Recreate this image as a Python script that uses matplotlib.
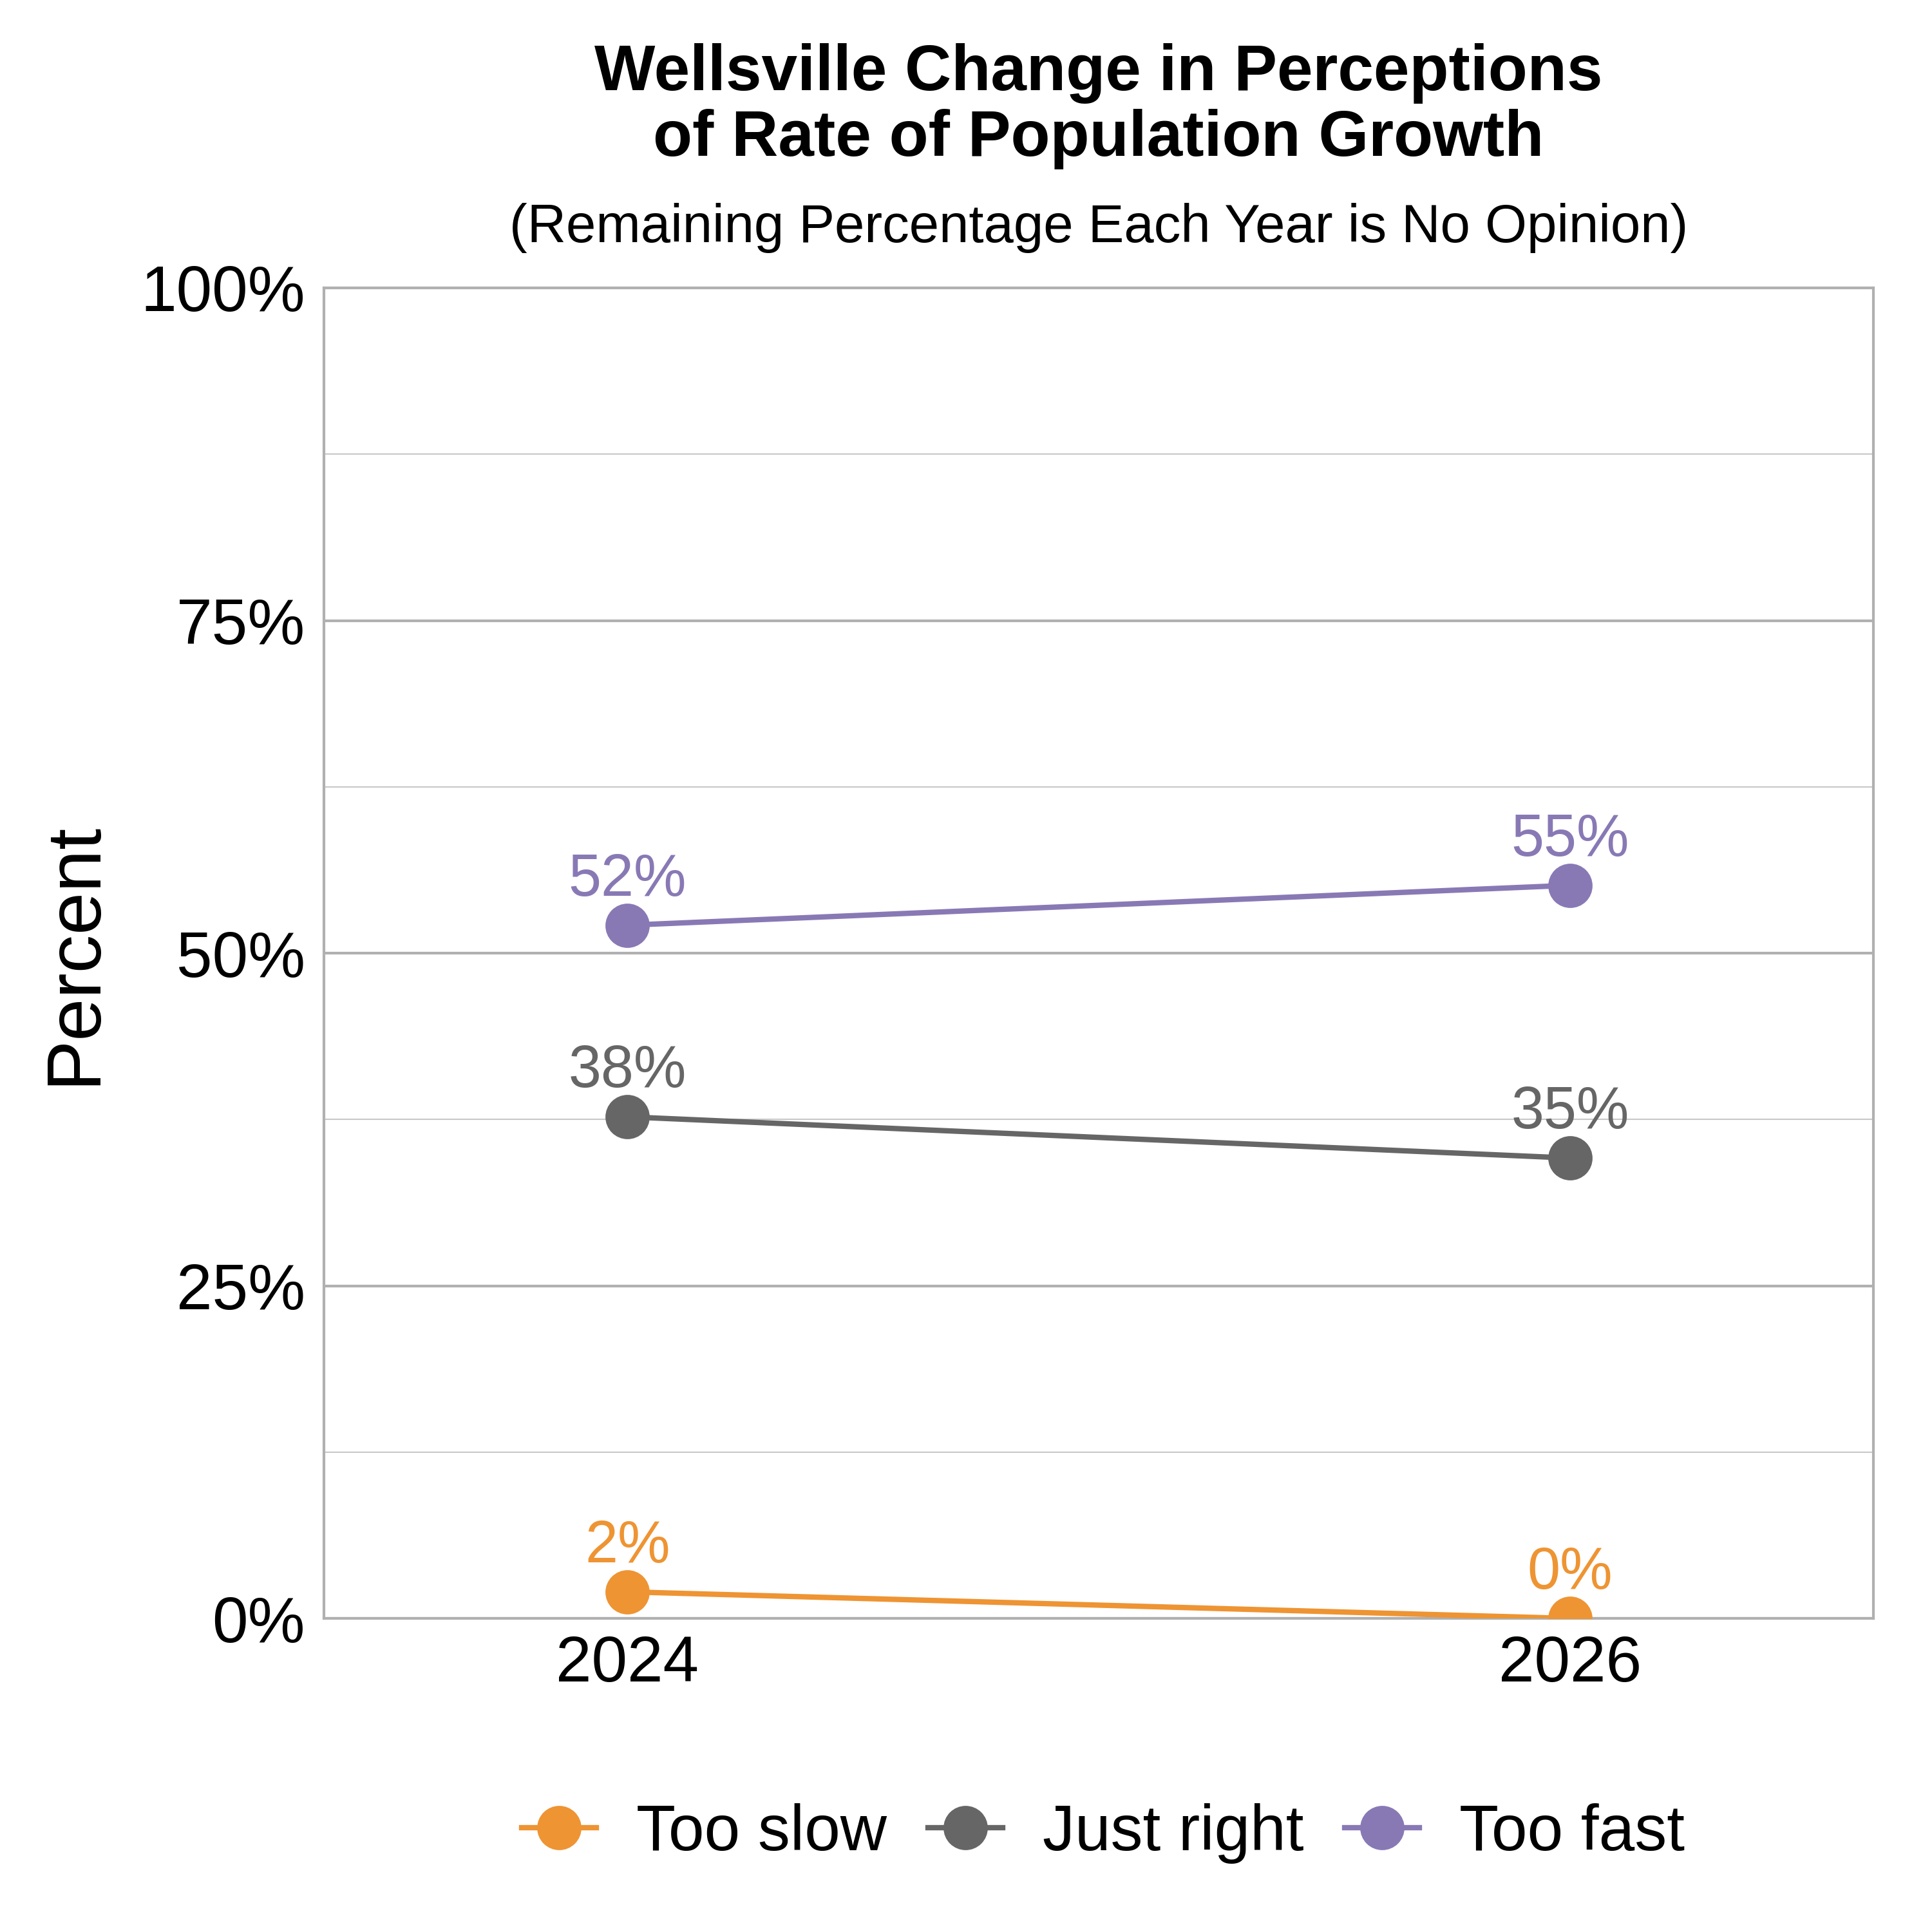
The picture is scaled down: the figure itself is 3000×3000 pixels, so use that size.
import matplotlib
matplotlib.use("Agg")
import matplotlib.pyplot as plt
import numpy as np

plt.rcParams['font.family'] = ['Liberation Sans', 'DejaVu Sans']

years = ["2024", "2026"]
too_slow = [2.0, 0.0]
just_right = [37.7, 34.6]
too_fast = [52.1, 55.1]

series_names = ["Too slow", "Just right", "Too fast"]
series_vals = [too_slow, just_right, too_fast]
colors = ["#EE9433", "#666666", "#8879B5"]

fig = plt.figure(figsize=(10, 10), dpi=300)
ax = fig.add_axes([0.1677, 0.1623, 0.802, 0.6887])

x = np.arange(len(years))
for name, vals, c in zip(series_names, series_vals, colors):
    ax.plot(x, vals, color=c, lw=2, marker='o', markersize=15.5, label=name,
            zorder=3)
    for xi, v in zip(x, vals):
        ax.annotate(f"{round(v):.0f}%", (xi, v), xytext=(0, 11),
                    textcoords='offset points', ha='center', va='baseline',
                    color=c, fontsize=22, zorder=4)

ax.set_xlim(-0.322, 1.322)
ax.set_ylim(0, 100)
ax.set_xticks(x)
ax.set_xticklabels(years)
ax.set_yticks([0, 25, 50, 75, 100])
ax.set_yticklabels(["0%", "25%", "50%", "75%", "100%"])
ax.set_yticks([12.5, 37.5, 62.5, 87.5], minor=True)
ax.tick_params(axis='both', which='both', length=0, labelsize=24, pad=7)
ax.tick_params(axis='x', pad=6)
ax.grid(axis='y', which='major', color='#b0b0b0', lw=1.0)
ax.grid(axis='y', which='minor', color='#c8c8c8', lw=0.5)
ax.set_axisbelow(True)
for s in ax.spines.values():
    s.set_color('#b0b0b0')
    s.set_linewidth(1.0)

ax.set_ylabel("Percent", fontsize=28.5, labelpad=11)

fig.text(0.5687, 0.945, "Wellsville Change in Perceptions\nof Rate of Population Growth",
         ha='center', va='center', fontsize=24, fontweight='bold', linespacing=1.1)
fig.text(0.5687, 0.882, "(Remaining Percentage Each Year is No Opinion)",
         ha='center', va='center', fontsize=20)

fig.legend(loc='center', bbox_to_anchor=(0.571, 0.051), ncol=3, frameon=False,
           fontsize=24, handlelength=1.16, columnspacing=0.64, handletextpad=0.62)

fig.savefig("out.png", dpi=300, facecolor='white')
